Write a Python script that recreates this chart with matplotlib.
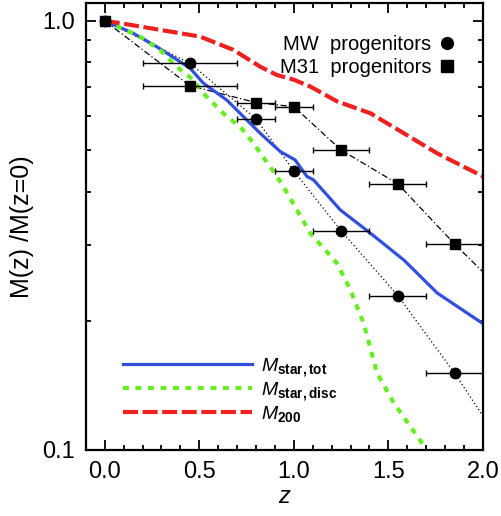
import matplotlib
matplotlib.use('Agg')
import matplotlib.pyplot as plt
from matplotlib.lines import Line2D

plt.rcParams['font.family'] = ['Liberation Sans', 'DejaVu Sans']
plt.rcParams['mathtext.fontset'] = 'custom'
plt.rcParams['mathtext.rm'] = 'Liberation Sans'
plt.rcParams['mathtext.it'] = 'Liberation Sans:italic'
plt.rcParams['mathtext.bf'] = 'Liberation Sans:bold'

# simulation curves
z_tot = [0.0, 0.15, 0.274, 0.451, 0.521, 0.645, 0.822, 0.928, 1.007, 1.069, 1.104, 1.246, 1.405, 1.582, 1.759, 2.0]
m_tot = [1.0, 0.936, 0.871, 0.776, 0.716, 0.654, 0.547, 0.496, 0.474, 0.434, 0.426, 0.3625, 0.320, 0.277, 0.232, 0.197]

z_disc = [0.0, 0.186, 0.292, 0.38, 0.468, 0.521, 0.645, 0.716, 0.786, 0.91, 0.945, 1.087, 1.229, 1.299, 1.37, 1.44, 1.529, 1.617, 1.697]
m_disc = [1.0, 0.919, 0.856, 0.782, 0.729, 0.678, 0.598, 0.567, 0.519, 0.434, 0.411, 0.320, 0.272, 0.236, 0.197, 0.151, 0.1285, 0.1133, 0.1009]

z_200 = [0.0, 0.08, 0.292, 0.504, 0.68, 0.822, 0.91, 1.0, 1.087, 1.229, 1.405, 1.582, 1.759, 2.0]
m_200 = [1.0, 0.988, 0.953, 0.919, 0.856, 0.782, 0.748, 0.729, 0.703, 0.649, 0.609, 0.547, 0.491, 0.434]

# observed progenitors
z_obs = [0.0, 0.45, 0.8, 1.0, 1.25, 1.55, 1.85]
z_err = [0.0, 0.25, 0.1, 0.1, 0.15, 0.15, 0.15]
m_mw = [1.0, 0.797, 0.591, 0.447, 0.324, 0.229, 0.151]
m_m31 = [1.0, 0.706, 0.645, 0.631, 0.500, 0.417, 0.302]

# black guide lines through the points
z_mwline = z_obs + [2.0]
m_mwline = m_mw + [0.120]
z_m31line = z_obs + [2.0]
m_m31line = m_m31 + [0.260]

blue = '#3050dc'
green = '#66ee22'
red = '#ee2020'

fig = plt.figure(figsize=(5.02, 5.16), dpi=100)
ax = fig.add_axes([0.171, 0.128, 0.791, 0.866])

ax.plot(z_mwline, m_mwline, color='k', lw=0.9, ls=(0, (1, 2)))
ax.plot(z_m31line, m_m31line, color='k', lw=0.9, ls=(0, (5, 2, 1, 2)))

l1, = ax.plot(z_tot, m_tot, color=blue, lw=2.3)
l2, = ax.plot(z_disc, m_disc, color=green, lw=3, dashes=(1.4, 1.6))
l3, = ax.plot(z_200, m_200, color=red, lw=3, dashes=(3.6, 1.1))

ax.errorbar(z_obs, m_mw, xerr=z_err, fmt='o', color='k', ms=7.5, lw=1, capsize=2.5, capthick=1)
ax.errorbar(z_obs, m_m31, xerr=z_err, fmt='s', color='k', ms=7.5, lw=1, capsize=2.5, capthick=1)

ax.set_yscale('log')
ax.set_xlim(-0.1, 2.0)
ax.set_ylim(0.1, 1.1)
ax.set_xticks([0.0, 0.5, 1.0, 1.5, 2.0])
ax.set_xticklabels(['0.0', '0.5', '1.0', '1.5', '2.0'])
ax.set_xticks([i / 10 for i in range(-1, 21)], minor=True)
ax.set_yticks([0.1, 1.0])
ax.set_yticklabels(['0.1', '1.0'])
ax.set_yticks([i / 10 for i in range(2, 10)], minor=True)
ax.yaxis.set_minor_formatter(plt.NullFormatter())
ax.tick_params(which='both', direction='in', top=True, right=True, labelsize=17, width=1.3, pad=8)
ax.tick_params(which='major', length=7)
ax.tick_params(which='minor', length=3.5)
for s in ax.spines.values():
    s.set_linewidth(1.6)

ax.set_xlabel('$z$', fontsize=17, labelpad=2)
ax.set_ylabel('M(z) /M(z=0)', fontsize=18, labelpad=6)

h_mw = Line2D([], [], color='k', marker='o', ls='none', ms=8.5)
h_m31 = Line2D([], [], color='k', marker='s', ls='none', ms=8.5)
leg1 = ax.legend([h_mw, h_m31], ['MW  progenitors', 'M31  progenitors'], loc='upper right',
                 markerfirst=False, frameon=False, fontsize=14.5, handlelength=0.8,
                 handletextpad=0.4, labelspacing=0.2, borderaxespad=1.2,
                 bbox_to_anchor=(1.012, 1.0))
ax.add_artist(leg1)

ax.legend([l1, l2, l3], [r'$M_{\mathbf{star,tot}}$', r'$M_{\mathbf{star,disc}}$', r'$M_{\mathbf{200}}$'],
          loc='lower left', frameon=False, fontsize=14, handlelength=6.6,
          handletextpad=0.5, labelspacing=0.05, bbox_to_anchor=(0.05, 0.02))

fig.savefig('out.png', dpi=100)
